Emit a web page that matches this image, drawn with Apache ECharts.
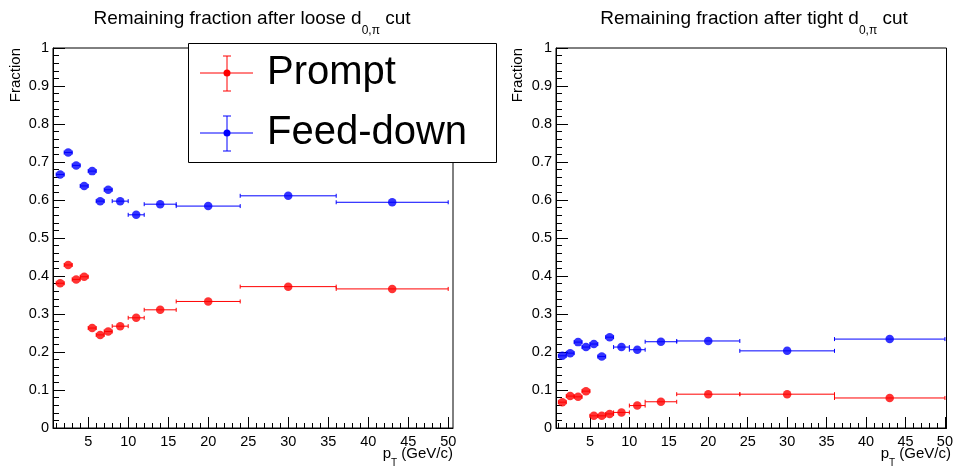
<!DOCTYPE html>
<html>
<head>
<meta charset="utf-8">
<script src="https://cdn.jsdelivr.net/npm/echarts@6/dist/echarts.min.js"></script>
<style>
  html, body { margin: 0; padding: 0; background: #fff; }
  #chart { width: 956px; height: 466px; }
</style>
</head>
<body>
<div id="chart"></div>
<script>
// pT bins (GeV/c)
var binCenter = [1.5, 2.5, 3.5, 4.5, 5.5, 6.5, 7.5, 9, 11, 14, 20, 30, 43];
var binLow    = [1, 2, 3, 4, 5, 6, 7, 8, 10, 12, 16, 24, 36];
var binHigh   = [2, 3, 4, 5, 6, 7, 8, 10, 12, 16, 24, 36, 50];

// loose cut
var loosePrompt   = [0.381, 0.429, 0.391, 0.398, 0.263, 0.245, 0.254, 0.268, 0.290, 0.311, 0.333, 0.372, 0.366];
var looseFeedDown = [0.667, 0.725, 0.691, 0.637, 0.676, 0.597, 0.627, 0.597, 0.561, 0.589, 0.584, 0.611, 0.594];
// tight cut
var tightPrompt   = [0.068, 0.084, 0.082, 0.097, 0.032, 0.032, 0.037, 0.041, 0.059, 0.069, 0.089, 0.089, 0.079];
var tightFeedDown = [0.190, 0.197, 0.226, 0.213, 0.221, 0.188, 0.239, 0.213, 0.206, 0.227, 0.229, 0.203, 0.234];

var xMajorTicks = [5, 10, 15, 20, 25, 30, 35, 40, 45, 50];
var xMinorTicks = [];
for (var t = 1; t <= 50; t++) { xMinorTicks.push(t); }

var FONT = "'Liberation Sans', Arial, sans-serif";
var RED = '#ff0000', BLUE = '#0000ff';

function points(values) {
  return values.map(function (v, i) { return [binCenter[i], v, binLow[i], binHigh[i]]; });
}

function errorBars(params, api) {
  var y = api.value(1);
  var p1 = api.coord([api.value(2), y]);
  var p2 = api.coord([api.value(3), y]);
  var style = { stroke: api.visual('color'), lineWidth: 1 };
  return {
    type: 'group',
    children: [
      { type: 'line', shape: { x1: p1[0], y1: p1[1], x2: p2[0], y2: p2[1] }, style: style },
      { type: 'line', shape: { x1: p1[0], y1: p1[1] - 2, x2: p1[0], y2: p1[1] + 2 }, style: style },
      { type: 'line', shape: { x1: p2[0], y1: p2[1] - 2, x2: p2[0], y2: p2[1] + 2 }, style: style }
    ]
  };
}

function mainXAxis(grid, min, max) {
  return {
    type: 'value', gridIndex: grid, position: 'bottom', min: min, max: max,
    axisLine: { lineStyle: { color: '#000', width: 1 } },
    axisTick: { inside: true, length: 11, customValues: xMajorTicks, lineStyle: { color: '#000' } },
    axisLabel: { customValues: xMajorTicks, color: '#000', fontSize: 14.5, fontFamily: FONT, margin: 6 },
    splitLine: { show: false }
  };
}
function minorXAxis(grid, min, max) {
  return {
    type: 'value', gridIndex: grid, position: 'bottom', min: min, max: max,
    axisLine: { show: false },
    axisTick: { inside: true, length: 5, customValues: xMinorTicks, lineStyle: { color: '#000' } },
    axisLabel: { show: false },
    splitLine: { show: false }
  };
}
function fracYAxis(grid) {
  return {
    type: 'value', gridIndex: grid, min: 0, max: 1, interval: 0.1,
    axisLine: { show: true, lineStyle: { color: '#000', width: 1 } },
    axisTick: { show: true, inside: true, length: 12, lineStyle: { color: '#000' } },
    minorTick: { show: true, splitNumber: 5, length: 6, lineStyle: { color: '#000' } },
    axisLabel: { color: '#000', fontSize: 14.5, fontFamily: FONT, margin: 4 },
    splitLine: { show: false }
  };
}

function scatter(name, xi, yi, values, color) {
  return {
    name: name, type: 'scatter', xAxisIndex: xi, yAxisIndex: yi,
    symbol: 'circle', symbolSize: 8.5, itemStyle: { color: color }, z: 3,
    data: points(values)
  };
}
function bars(xi, yi, values, color) {
  return {
    type: 'custom', xAxisIndex: xi, yAxisIndex: yi, renderItem: errorBars,
    itemStyle: { color: color }, encode: { x: [0, 2, 3], y: 1 }, z: 2,
    data: points(values)
  };
}

// text with a lowered subscript (rich text)
function subText(parts, x, y, align) {
  return {
    type: 'text', x: x, y: y, z: 50,
    style: {
      text: parts, align: align, verticalAlign: 'top', fill: '#000',
      rich: {
        a: { fontSize: 19, fontFamily: FONT, lineHeight: 28, verticalAlign: 'top', fill: '#000' },
        s: { fontSize: 12, fontFamily: FONT, lineHeight: 28, verticalAlign: 'bottom', fill: '#000' },
        b: { fontSize: 15, fontFamily: FONT, lineHeight: 22, verticalAlign: 'top', fill: '#000' },
        t: { fontSize: 10, fontFamily: FONT, lineHeight: 22, verticalAlign: 'bottom', fill: '#000' }
      }
    }
  };
}

function legendEntry(y, color, label) {
  var ls = { stroke: color, lineWidth: 1 };
  return [
    { type: 'line', z: 101, shape: { x1: 200, y1: y, x2: 253, y2: y }, style: ls },
    { type: 'line', z: 101, shape: { x1: 227, y1: y - 17, x2: 227, y2: y + 18 }, style: ls },
    { type: 'line', z: 101, shape: { x1: 223, y1: y - 17, x2: 231, y2: y - 17 }, style: ls },
    { type: 'line', z: 101, shape: { x1: 223, y1: y + 18, x2: 231, y2: y + 18 }, style: ls },
    { type: 'circle', z: 102, shape: { cx: 227, cy: y, r: 3.5 }, style: { fill: color } },
    { type: 'text', z: 102, x: 267, y: y, style: { text: label, fontSize: 40, fontFamily: FONT, fill: '#000', verticalAlign: 'middle' } }
  ];
}

var chart = echarts.init(document.getElementById('chart'), null, { renderer: 'canvas' });

var graphics = [
  subText('{a|Remaining fraction after loose d}{s|0,π}{a| cut}', 252, 9, 'center'),
  subText('{a|Remaining fraction after tight d}{s|0,π}{a| cut}', 754, 9, 'center'),
  subText('{b|p}{t|T}{b| (GeV/c)}', 453, 446, 'right'),
  subText('{b|p}{t|T}{b| (GeV/c)}', 951, 446, 'right'),
  { type: 'text', x: 16, y: 48, rotation: Math.PI / 2, z: 50,
    style: { text: 'Fraction', fontSize: 15, fontFamily: FONT, fill: '#000', align: 'right', verticalAlign: 'middle' } },
  { type: 'text', x: 518, y: 48, rotation: Math.PI / 2, z: 50,
    style: { text: 'Fraction', fontSize: 15, fontFamily: FONT, fill: '#000', align: 'right', verticalAlign: 'middle' } },
  { type: 'rect', z: 100, shape: { x: 188.5, y: 43.5, width: 308, height: 119 },
    style: { fill: '#fff', stroke: '#000', lineWidth: 1 } }
].concat(legendEntry(73, RED, 'Prompt'), legendEntry(133, BLUE, 'Feed-down'));

chart.setOption({
  animation: false,
  backgroundColor: '#fff',
  grid: [
    { left: 53, top: 48, width: 400, height: 380, show: true, borderColor: '#000', borderWidth: 1, backgroundColor: 'transparent' },
    { left: 556, top: 48, width: 396, height: 380, show: true, borderColor: '#000', borderWidth: 1, backgroundColor: 'transparent' }
  ],
  xAxis: [
    mainXAxis(0, 0.6, 50.6),
    minorXAxis(0, 0.6, 50.6),
    mainXAxis(1, 0.7, 50.2),
    minorXAxis(1, 0.7, 50.2)
  ],
  yAxis: [fracYAxis(0), fracYAxis(1)],
  series: [
    bars(0, 0, loosePrompt, RED),
    bars(0, 0, looseFeedDown, BLUE),
    scatter('Prompt', 0, 0, loosePrompt, RED),
    scatter('Feed-down', 0, 0, looseFeedDown, BLUE),
    bars(2, 1, tightPrompt, RED),
    bars(2, 1, tightFeedDown, BLUE),
    scatter('Prompt', 2, 1, tightPrompt, RED),
    scatter('Feed-down', 2, 1, tightFeedDown, BLUE)
  ],
  graphic: graphics
});
</script>
</body>
</html>
